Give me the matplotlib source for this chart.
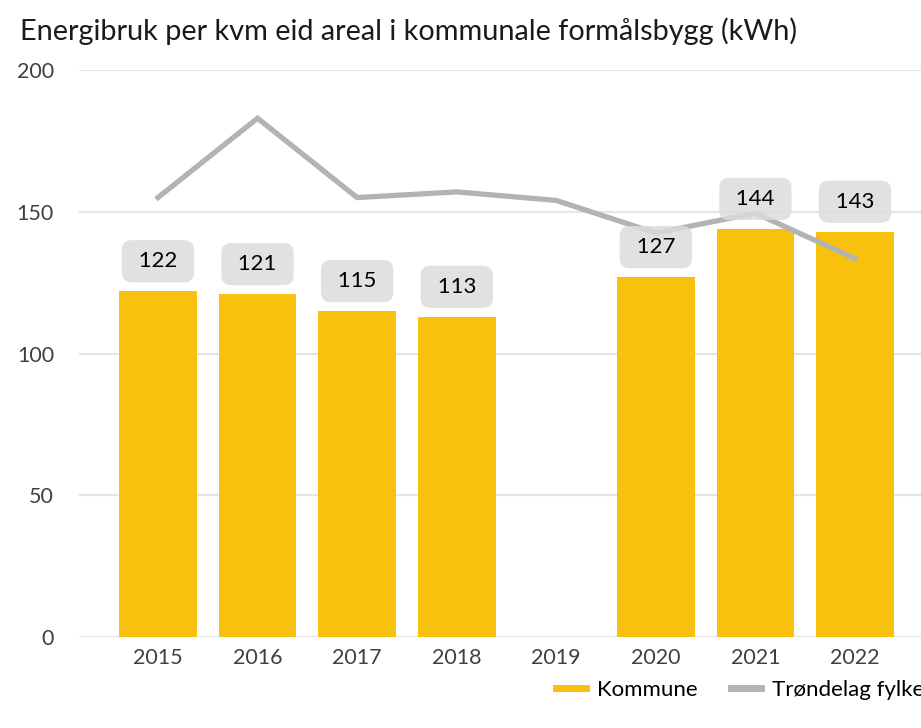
import numpy as np
import matplotlib
matplotlib.use("Agg")
import matplotlib.pyplot as plt
from matplotlib.lines import Line2D

plt.rcParams['font.family'] = ['Lato', 'DejaVu Sans']

years = ['2015', '2016', '2017', '2018', '2019', '2020', '2021', '2022']
kommune = [122, 121, 115, 113, np.nan, 127, 144, 143]
fylke = [155, 183, 155, 157, 154, 142.5, 149.5, 133.5]
yticks = [0, 50, 100, 150, 200]
title = 'Energibruk per kvm eid areal i kommunale formålsbygg (kWh)'

BAR = '#F8C10E'
LINE = '#B3B3B3'
GRID = '#E3E6E6'
TXT = '#404040'

W, H = 921, 728
fig = plt.figure(figsize=(W / 100, H / 100), dpi=100)
ax = fig.add_axes([79 / W, (H - 637) / H, 1 - 79 / W, (637 - 70) / H])

x = np.arange(len(years))
ax.bar(x, kommune, width=0.78, color=BAR, zorder=2)
ax.plot(x, fylke, color=LINE, lw=3.8, zorder=3, solid_joinstyle='miter')

for xi, v in zip(x, kommune):
    if np.isnan(v):
        continue
    ax.annotate(f' {v:.0f} ', (xi, v), xytext=(0, 21.5), textcoords='offset points',
                ha='center', va='center', fontsize=16, color='black', zorder=4,
                bbox=dict(boxstyle='round,pad=0.5,rounding_size=0.45', fc='#DCDCDC',
                          ec='none', alpha=0.85))

ax.set_xlim(-0.793, 7.663)
ax.set_ylim(0, 200)
ax.set_yticks(yticks)
ax.set_xticks(x)
ax.set_xticklabels(years)
ax.tick_params(axis='both', length=0, labelsize=15.5, labelcolor=TXT)
ax.tick_params(axis='x', pad=8)
ax.tick_params(axis='y', pad=18)
ax.grid(axis='y', color=GRID, lw=1.5, zorder=0)
ax.set_axisbelow(True)
for s in ax.spines.values():
    s.set_visible(False)

fig.text(20 / W, 1 - 31 / H, title, fontsize=20.8, color='#1a1a1a', ha='left', va='center')

handles = [Line2D([], [], color=BAR, lw=5), Line2D([], [], color=LINE, lw=5)]
fig.legend(handles, ['Kommune', 'Trøndelag fylke'], loc='center left',
           bbox_to_anchor=(536 / W, 1 - 690 / H), ncol=2, frameon=False,
           fontsize=16, handlelength=1.35, columnspacing=1.5, handletextpad=0.5,
           labelcolor='black')

fig.savefig('out.png', dpi=100)
